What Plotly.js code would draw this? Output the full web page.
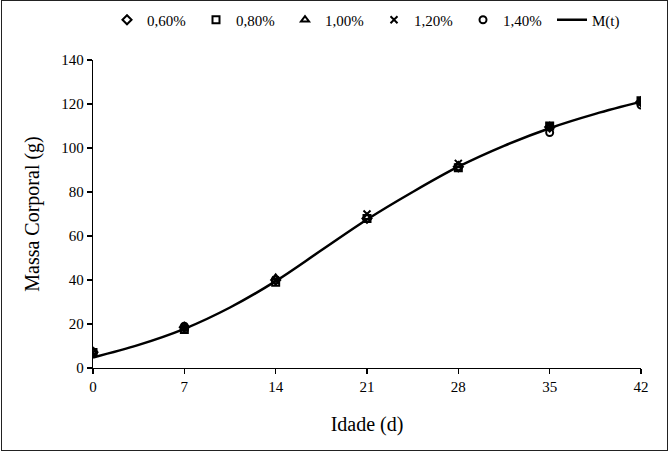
<!DOCTYPE html>
<html>
<head>
<meta charset="utf-8">
<script src="https://cdn.plot.ly/plotly-3.0.1.min.js"></script>
<style>
  html, body { margin: 0; padding: 0; background: #fff; }
  #wrap { position: relative; width: 670px; height: 452px; }
  #chart { width: 670px; height: 452px; }
  #frame { position: absolute; left: 1px; top: 0px; width: 665px; height: 449px; border: 1.5px solid #222; pointer-events: none; }
</style>
</head>
<body>
<div id="wrap"><div id="chart"></div><div id="frame"></div></div>
<script>
// Data
const days = [0, 7, 14, 21, 28, 35, 42];
const mass060 = [7.2, 18.5, 40, 68, 91.5, 109.5, 121];
const mass080 = [7.0, 17.5, 39, 68, 91, 110, 121.5];
const mass100 = [7.1, 18, 41, 68.5, 92, 109.5, 121];
const mass120 = [7.0, 18, 40, 70, 93, 110, 121];
const mass140 = [7.3, 19, 40, 68, 91.5, 107, 119.5];

// Fitted curve M(t)
const curveDays = [0, 3.5, 7, 10.5, 14, 17.5, 21, 24.5, 28, 31.5, 35, 38.5, 42];
const curveMass = [4.8, 10.5, 17.8, 27.5, 39.5, 53.5, 67.5, 80, 91.5, 101, 109, 115.5, 121];

const seriesNames = ['0,60%', '0,80%', '1,00%', '1,20%', '1,40%'];
const seriesValues = [mass060, mass080, mass100, mass120, mass140];
const seriesSymbols = ['diamond-open', 'square-open', 'triangle-up-open', 'x-thin-open', 'circle-open'];

const fontFam = '"Liberation Serif", "Times New Roman", serif';

const traces = seriesNames.map((name, i) => ({
  x: days, y: seriesValues[i], name: name, type: 'scatter', mode: 'markers',
  marker: { symbol: seriesSymbols[i], size: 7, color: '#000', line: { color: '#000', width: 2 } }
}));
traces.push({
  x: curveDays, y: curveMass, name: 'M(t)', type: 'scatter', mode: 'lines',
  line: { color: '#000', width: 2.5, shape: 'spline', smoothing: 1 }
});

const layout = {
  width: 670, height: 452,
  margin: { l: 93, r: 29, t: 60, b: 84 },
  paper_bgcolor: '#fff', plot_bgcolor: '#fff',
  font: { family: fontFam, size: 15, color: '#000' },
  showlegend: true,
  legend: {
    orientation: 'h', xref: 'container', yref: 'container',
    x: 107 / 670, xanchor: 'left', y: 1 - 20 / 452, yanchor: 'middle',
    font: { family: fontFam, size: 15, color: '#000' },
    itemwidth: 30, entrywidth: 44, entrywidthmode: 'pixels', tracegroupgap: 0
  },
  xaxis: {
    range: [0, 42], tickvals: days, ticktext: days.map(String),
    showgrid: false, zeroline: false, showline: true, linecolor: '#000', linewidth: 1.2,
    ticks: 'outside', ticklen: 5, tickcolor: '#000', tickwidth: 1.2,
    tickfont: { family: fontFam, size: 15, color: '#000' },
    title: { text: 'Idade (d)', font: { family: fontFam, size: 20, color: '#000' }, standoff: 22 },
    fixedrange: true
  },
  yaxis: {
    range: [0, 140], tickvals: [0, 20, 40, 60, 80, 100, 120, 140],
    showgrid: false, zeroline: false, showline: true, linecolor: '#000', linewidth: 1.2,
    ticks: 'outside', ticklen: 5, tickcolor: '#000', tickwidth: 1.2,
    tickfont: { family: fontFam, size: 15, color: '#000' },
    title: { text: 'Massa Corporal (g)', font: { family: fontFam, size: 20, color: '#000' }, standoff: 16 },
    fixedrange: true
  }
};

Plotly.newPlot('chart', traces, layout, { displayModeBar: false, staticPlot: true });
</script>
</body>
</html>
